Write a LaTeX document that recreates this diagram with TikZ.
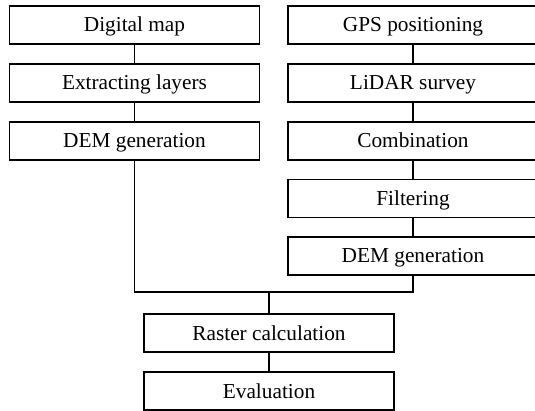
\documentclass[tikz,border=0pt]{standalone}
\usepackage{fontspec}
\setmainfont{Liberation Serif}
\begin{document}
\begin{tikzpicture}[x=1pt,y=-1pt,
  box/.style={draw, line width=1.1pt, minimum width=250pt, minimum height=38pt,
    inner sep=0pt, text height=18pt, text depth=4pt, font=\fontsize{21.3}{25}\selectfont},
  conn/.style={line width=1.1pt}]
\clip (0,0) rectangle (535,411);
\node[box] (l1) at (134.5,25) {Digital map};
\node[box] (l2) at (134.5,83) {Extracting layers};
\node[box] (l3) at (134.5,141) {DEM generation};
\node[box] (r1) at (413,25) {GPS positioning};
\node[box] (r2) at (413,83) {LiDAR survey};
\node[box] (r3) at (413,141) {Combination};
\node[box] (r4) at (413,198.5) {Filtering};
\node[box] (r5) at (413,256) {DEM generation};
\node[box] (rc) at (269,333) {Raster calculation};
\node[box] (ev) at (269,391) {Evaluation};
\coordinate (bus) at (269,292);
\draw[conn] (l1) -- (l2);
\draw[conn] (l2) -- (l3);
\draw[conn] (r1) -- (r2);
\draw[conn] (r2) -- (r3);
\draw[conn] (r3) -- (r4);
\draw[conn] (r4) -- (r5);
\draw[conn] (l3.south) |- (bus) -| (r5.south);
\draw[conn] (bus) -- (rc.north);
\draw[conn] (rc) -- (ev);
\end{tikzpicture}
\end{document}
